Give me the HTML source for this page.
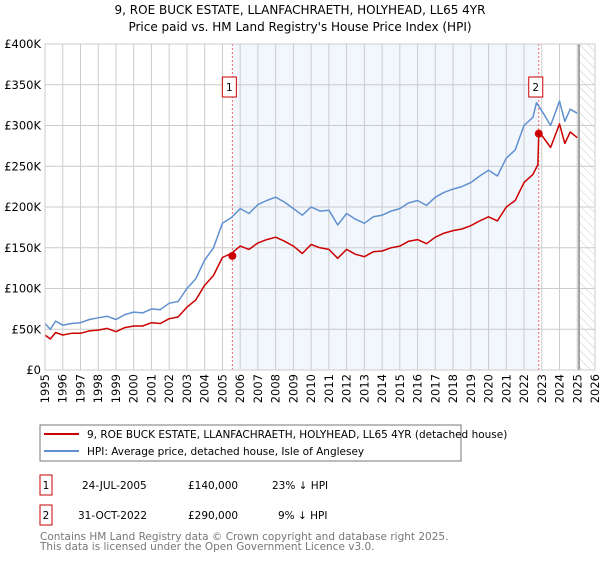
<!DOCTYPE html>
<html><head><meta charset="utf-8"><style>
body{margin:0;background:#fff;}
svg text{font-family:"DejaVu Sans","Liberation Sans",sans-serif;}
</style></head><body>
<svg id="c" width="600" height="560" xmlns="http://www.w3.org/2000/svg">
<defs><pattern id="hatch" width="6" height="6" patternUnits="userSpaceOnUse" patternTransform="rotate(-45)"><line x1="0" y1="0" x2="0" y2="6" stroke="#ccc" stroke-width="1"/></pattern></defs>
<text x="300" y="14" text-anchor="middle" font-size="12">9, ROE BUCK ESTATE, LLANFACHRAETH, HOLYHEAD, LL65 4YR</text>
<text x="300" y="31" text-anchor="middle" font-size="12">Price paid vs. HM Land Registry's House Price Index (HPI)</text>
<g id="plot"></g>
<g>
<rect x="40" y="425" width="421" height="36" fill="#fff" stroke="#777"/>
<line x1="44" y1="434" x2="79" y2="434" stroke="#cc0000" stroke-width="2"/>
<text x="87" y="438" font-size="10.5">9, ROE BUCK ESTATE, LLANFACHRAETH, HOLYHEAD, LL65 4YR (detached house)</text>
<line x1="44" y1="451" x2="79" y2="451" stroke="#6090d0" stroke-width="2"/>
<text x="87" y="455" font-size="10.5">HPI: Average price, detached house, Isle of Anglesey</text>
</g>
<g font-size="10.5">
<rect x="40" y="475" width="12" height="20" fill="#fff" stroke="#cc0000"/><text x="46" y="489" text-anchor="middle">1</text>
<text x="82" y="489">24-JUL-2005</text><text x="188" y="489">£140,000</text><text x="272" y="489">23% ↓ HPI</text>
<rect x="40" y="505" width="12" height="20" fill="#fff" stroke="#cc0000"/><text x="46" y="519" text-anchor="middle">2</text>
<text x="78" y="519">31-OCT-2022</text><text x="188" y="519">£290,000</text><text x="278" y="519">9% ↓ HPI</text>
</g>
<text x="40" y="540" font-size="10.5" fill="#777">Contains HM Land Registry data © Crown copyright and database right 2025.</text>
<text x="40" y="550" font-size="10.5" fill="#777">This data is licensed under the Open Government Licence v3.0.</text>
</svg>
<script>
const hpiYears=[1995,1995.3,1995.6,1996,1996.5,1997,1997.5,1998,1998.5,1999,1999.5,2000,2000.5,2001,2001.5,2002,2002.5,2003,2003.5,2004,2004.5,2005,2005.5,2006,2006.5,2007,2007.5,2008,2008.5,2009,2009.5,2010,2010.5,2011,2011.5,2012,2012.5,2013,2013.5,2014,2014.5,2015,2015.5,2016,2016.5,2017,2017.5,2018,2018.5,2019,2019.5,2020,2020.5,2021,2021.5,2022,2022.5,2022.7,2023,2023.5,2024,2024.3,2024.6,2025];
const hpiValues=[57,50,60,55,57,58,62,64,66,62,68,71,70,75,74,82,84,100,112,135,150,180,187,198,192,203,208,212,206,198,190,200,195,196,178,192,185,180,188,190,195,198,205,208,202,212,218,222,225,230,238,245,238,260,270,300,310,328,318,300,330,305,320,315];
const priceYears=[1995,1995.3,1995.6,1996,1996.5,1997,1997.5,1998,1998.5,1999,1999.5,2000,2000.5,2001,2001.5,2002,2002.5,2003,2003.5,2004,2004.5,2005,2005.5,2006,2006.5,2007,2007.5,2008,2008.5,2009,2009.5,2010,2010.5,2011,2011.5,2012,2012.5,2013,2013.5,2014,2014.5,2015,2015.5,2016,2016.5,2017,2017.5,2018,2018.5,2019,2019.5,2020,2020.5,2021,2021.5,2022,2022.5,2022.78,2022.83,2023,2023.5,2024,2024.3,2024.6,2025];
const priceValues=[43,38,46,43,45,45,48,49,51,47,52,54,54,58,57,63,65,77,86,104,116,138,143,152,148,156,160,163,158,152,143,154,150,148,137,148,142,139,145,146,150,152,158,160,155,163,168,171,173,177,183,188,183,200,208,230,240,252,290,288,273,302,278,292,285];
const saleYears=[2005.56,2022.83];
const saleValues=[140,290];
const saleLabels=["1","2"];
const yTicks=[0,50,100,150,200,250,300,350,400];
const yTickLabels=["£0","£50K","£100K","£150K","£200K","£250K","£300K","£350K","£400K"];
const xTicks=[1995,1996,1997,1998,1999,2000,2001,2002,2003,2004,2005,2006,2007,2008,2009,2010,2011,2012,2013,2014,2015,2016,2017,2018,2019,2020,2021,2022,2023,2024,2025,2026];

const L=45,R=595,T=44,B=370,X0=1995,X1=2026,YMAX=400;
const xs=v=>L+(v-X0)/(X1-X0)*(R-L);
const ys=v=>B-v/YMAX*(B-T);
const NS="http://www.w3.org/2000/svg";
const g=document.getElementById('plot');
function mk(t,a,p){const e=document.createElementNS(NS,t);for(const k in a)e.setAttribute(k,a[k]);(p||g).appendChild(e);return e;}
let e;
e=mk('rect',{x:L,y:T,width:R-L,height:B-T,fill:'#fff'});


e=mk('rect',{x:xs(saleYears[0]),y:T,width:xs(saleYears[1])-xs(saleYears[0]),height:B-T,fill:'#eef3fc',opacity:0.75});


e=mk('rect',{x:xs(2025.1),y:T,width:R-xs(2025.1),height:B-T,fill:'url(#hatch)'});


xTicks.forEach(t=>{
 e=mk('line',{x1:xs(t),x2:xs(t),y1:T,y2:B,stroke:'#ccc'});
 
 
 const tx=xs(t)+4, ty=B+4;
 e=mk('text',{x:tx,y:ty,'text-anchor':'end','font-size':11.5,transform:`rotate(-90 ${tx} ${ty})`});
 e.textContent=t;
 
 
});
yTicks.forEach((t,i)=>{
 e=mk('line',{x1:L,x2:R,y1:ys(t),y2:ys(t),stroke:'#ccc'});
 
 
 e=mk('text',{x:L-4,y:ys(t)+4,'text-anchor':'end','font-size':11.5});
 e.textContent=yTickLabels[i];
 
 
});
e=mk('line',{x1:xs(2025.1),x2:xs(2025.1),y1:T,y2:B,stroke:'#888','stroke-width':1.5});


saleYears.forEach((s,i)=>{
 e=mk('line',{x1:xs(s),x2:xs(s),y1:T,y2:B,stroke:'#ee6666','stroke-dasharray':'2,2'});
 
 
});
const path=(xa,va)=>xa.map((x,i)=>(i?'L':'M')+xs(x).toFixed(1)+','+ys(va[i]).toFixed(1)).join('');
e=mk('path',{d:path(hpiYears,hpiValues),fill:'none',stroke:'#6090d0','stroke-width':1.5,'stroke-linejoin':'round'});


e=mk('path',{d:path(priceYears,priceValues),fill:'none',stroke:'#cc0000','stroke-width':1.5,'stroke-linejoin':'round'});


saleYears.forEach((s,i)=>{
 e=mk('circle',{cx:xs(s),cy:ys(saleValues[i]),r:4,fill:'#cc0000'});
 
 
 e=mk('rect',{x:xs(s)-10,y:77,width:14,height:20,fill:'#fff',stroke:'#cc0000'});
 
 
 e=mk('text',{x:xs(s)-3,y:91,'text-anchor':'middle','font-size':10.5});
 e.textContent=saleLabels[i];
 
 
});
e=mk('rect',{x:L,y:T,width:R-L,height:B-T,fill:'none',stroke:'#ccc'});


</script>
</body></html>
